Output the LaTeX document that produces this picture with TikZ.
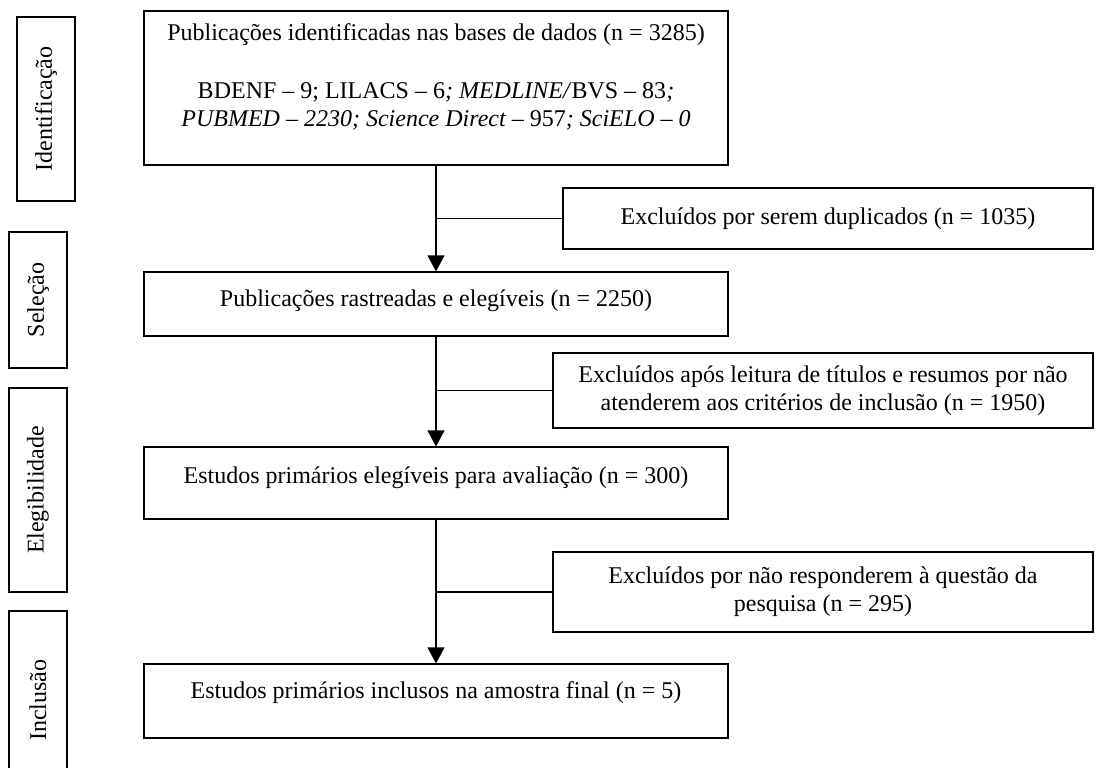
\documentclass[tikz,border=0pt]{standalone}
\usepackage{fontspec}
\setmainfont{Liberation Serif}
\usetikzlibrary{arrows.meta,positioning}

\begin{document}
\begin{tikzpicture}[x=0.5pt,y=-0.5pt,
  font=\fontsize{12}{14}\selectfont,
  line width=0.6pt,
  mainbox/.style={draw, minimum width=292pt, inner sep=0pt, align=center},
  exclbox/.style={draw, inner sep=0pt, align=center},
  stagebox/.style={draw, rotate=90, minimum height=29pt, inner sep=0pt},
  flow/.style={-{Triangle[length=8pt,width=8.5pt]}}]
  \useasboundingbox (0,0) rectangle (1096,767);
  \clip (0,0) rectangle (1096,767);
  % fases
  \node[stagebox, minimum width=92pt] (lblId) at (46,109) {Identificação};
  \node[stagebox, minimum width=68pt] (lblSel) at (38,300) {Seleção};
  \node[stagebox, minimum width=102pt] (lblEle) at (38,490) {Elegibilidade};
  \node[stagebox, minimum width=89pt] (lblInc) at (38,700) {Inclusão};
  % fluxo principal
  \node[mainbox, minimum height=77pt, text height=57.5pt, text depth=19.5pt] (ident) at (436,88)
    {Publicações identificadas nas bases de dados (n = 3285)\\[15pt]
     BDENF -- 9; LILACS -- 6\textit{; MEDLINE/}BVS -- 83\textit{;}\\
     \textit{PUBMED -- 2230; Science Direct --} 957\textit{; SciELO -- 0}};
  \node[mainbox, minimum height=32pt, text height=17pt, text depth=15pt] (selec) at (436,304)
    {Publicações rastreadas e elegíveis (n = 2250)};
  \node[mainbox, minimum height=36pt, text height=18pt, text depth=18pt] (eleg) at (436,483)
    {Estudos primários elegíveis para avaliação (n = 300)};
  \node[mainbox, minimum height=37pt, text height=17pt, text depth=20pt] (incl) at (436,701)
    {Estudos primários inclusos na amostra final (n = 5)};
  % exclusoes
  \node[exclbox, minimum width=265pt, minimum height=30.5pt] (dup) at (828,218.5)
    {Excluídos por serem duplicados (n = 1035)};
  \node[exclbox, minimum width=270pt, minimum height=37.5pt] (titulos) at (823,390.5)
    {Excluídos após leitura de títulos e resumos por não\\atenderem aos critérios de inclusão (n = 1950)};
  \node[exclbox, minimum width=270pt, minimum height=40pt] (questao) at (823,592)
    {Excluídos por não responderem à questão da\\pesquisa (n = 295)};
  % setas
  \coordinate (trunk) at (436,0);
  \draw[flow] (ident.south -| trunk) -- (selec.north -| trunk);
  \draw[flow] (selec.south -| trunk) -- (eleg.north -| trunk);
  \draw[flow] (eleg.south -| trunk) -- (incl.north -| trunk);
  \draw (trunk |- dup.west) -- (dup.west);
  \draw (trunk |- titulos.west) -- (titulos.west);
  \draw (trunk |- questao.west) -- (questao.west);
\end{tikzpicture}
\end{document}
